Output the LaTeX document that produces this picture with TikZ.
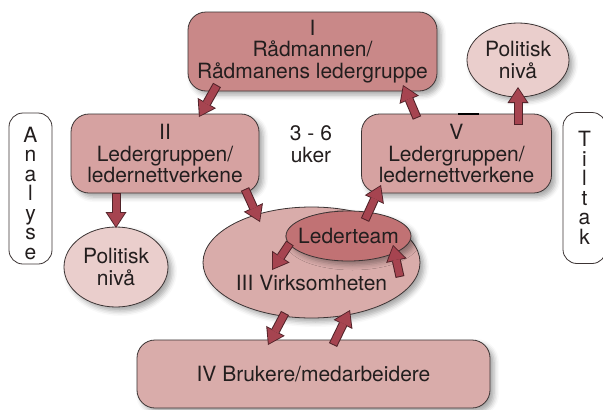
\documentclass[tikz,border=0pt]{standalone}
\usepackage{fontspec}
\setmainfont{TeX Gyre Heros}
\usetikzlibrary{arrows.meta,shapes.geometric,shadows.blur}

\definecolor{raadfill}{RGB}{201,136,136}
\definecolor{ledfill}{RGB}{214,162,161}
\definecolor{virkfill}{RGB}{217,172,170}
\definecolor{polfill}{RGB}{234,206,204}
\definecolor{lederfill}{RGB}{193,114,116}
\definecolor{arrowred}{RGB}{166,68,80}
\definecolor{arrowdark}{RGB}{80,34,40}
\definecolor{linegray}{RGB}{60,52,52}
\definecolor{textgray}{RGB}{35,30,30}

\tikzset{
  every node/.style={font=\fontsize{21}{21.5}\selectfont, text=textgray, align=center},
  skygge/.style={blur shadow={shadow xshift=4pt, shadow yshift=-4pt, shadow blur radius=5pt, shadow opacity=35}},
  kasse/.style={draw=linegray, line width=0.8pt, rounded corners=18pt, skygge},
  ellips/.style={ellipse, draw=linegray, line width=0.8pt, inner sep=0pt, skygge},
  sidekasse/.style={draw=linegray, line width=0.8pt, rounded corners=14pt, fill=white,
    minimum width=43pt, minimum height=151pt, font=\fontsize{21}{19.5}\selectfont},
  pil/.style={draw=arrowdark, line width=9pt, -{Triangle[length=16pt,width=21pt,line width=0pt]},
    postaction={draw=arrowred, line width=7pt, shorten <=1pt, shorten >=1.5pt,
      -{Triangle[length=13.6pt,width=17.6pt,line width=0pt]}}}
}

\begin{document}
\begin{tikzpicture}[x=1pt,y=-1pt]
  \useasboundingbox (0,0) rectangle (603,410);
  \node (analyse) at (30.5,188.5) [sidekasse] {\rule{0pt}{25pt}A\\n\\a\\l\\y\\s\\e};
  \node (tiltak) at (584.5,188) [sidekasse] {T\\i\\l\\t\\a\\k};
  \node (raad) at (312.5,51.5) [kasse, fill=raadfill, minimum width=249pt, minimum height=79pt]
    {I\\Rådmannen/\\Rådmanens ledergruppe};
  \node (ledII) at (165,153.5) [kasse, fill=ledfill, minimum width=188pt, minimum height=79pt]
    {II\\Ledergruppen/\\ledernettverkene};
  \node (ledV) at (456.5,153.5) [kasse, fill=ledfill, minimum width=190pt, minimum height=79pt]
    {V\\Ledergruppen/\\ledernettverkene};
  \node (polH) at (518,60) [ellips, fill=polfill, minimum width=102pt, minimum height=74pt]
    {Politisk\\nivå};
  \node (polV) at (116,267) [ellips, fill=polfill, minimum width=104pt, minimum height=80pt]
    {Politisk\\nivå};
  \node (uker) at (311,144) {3 - 6\\uker};
  \node (bruk) at (313.5,374) [kasse, fill=virkfill, minimum width=353pt, minimum height=68pt]
    {IV Brukere/medarbeidere};
  \node (virk) at (311.5,262.5) [ellips, fill=virkfill, minimum width=217pt, minimum height=111pt] {};
  \node (virktekst) at (311.5,283) {III Virksomheten};
  \node (leder) at (348.5,236) [ellips, fill=lederfill, minimum width=125pt, minimum height=50pt]
    {\makebox[0pt]{Lederteam}};
  \draw [line width=2pt, black] ([xshift=1.5pt]ledV.north) -- ([xshift=22.5pt]ledV.north);

  \coordinate (p1a) at (217,85);   \coordinate (p1b) at (199,117);
  \coordinate (p2a) at (116,193);  \coordinate (p2b) at (116,228);
  \coordinate (p3a) at (245,189);  \coordinate (p3b) at (260,222);
  \coordinate (p4a) at (365,220);  \coordinate (p4b) at (381,185);
  \coordinate (p5a) at (417,118);  \coordinate (p5b) at (403,85);
  \coordinate (p6a) at (518,125);  \coordinate (p6b) at (518,87);
  \coordinate (p7a) at (290,243);  \coordinate (p7b) at (272,270);
  \coordinate (p8a) at (400,277);  \coordinate (p8b) at (393,245);
  \coordinate (p9a) at (285,313);  \coordinate (p9b) at (268,345);
  \coordinate (p10a) at (333,345); \coordinate (p10b) at (350,310);
  \draw [pil] (p1a) -- (p1b);
  \draw [pil] (p2a) -- (p2b);
  \draw [pil] (p3a) -- (p3b);
  \draw [pil] (p4a) -- (p4b);
  \draw [pil] (p5a) -- (p5b);
  \draw [pil] (p6a) -- (p6b);
  \draw [pil] (p7a) -- (p7b);
  \draw [pil] (p8a) -- (p8b);
  \draw [pil] (p9a) -- (p9b);
  \draw [pil] (p10a) -- (p10b);
\end{tikzpicture}
\end{document}
